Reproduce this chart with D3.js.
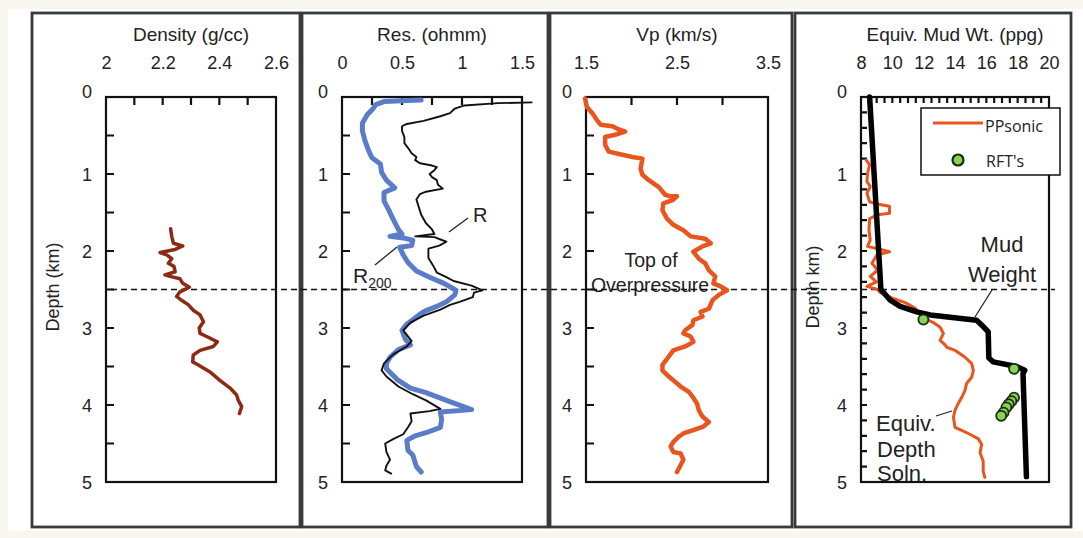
<!DOCTYPE html>
<html><head><meta charset="utf-8">
<script src="https://cdn.jsdelivr.net/npm/d3@7"></script>
<style>
html,body{margin:0;padding:0;background:#fff;}
svg{display:block;font-family:"Liberation Sans",Arial,sans-serif;}
</style></head><body>
<svg id="chart" width="1083" height="538"></svg>
<script>
// ---------------- data ----------------
const depthLabels = [0, 1, 2, 3, 4, 5];
const densityTicks = [2, 2.2, 2.4, 2.6];
const resTicks = [0, 0.5, 1, 1.5];
const vpTicks = [1.5, 2.5, 3.5];
const mudTicks = [8, 10, 12, 14, 16, 18, 20];
const overpressureTop = 2.5;

// [depth km, density g/cc]
const densityLog = [[1.71,2.228],[1.81,2.232],[1.90,2.238],[1.935,2.271],[1.98,2.244],[2.02,2.191],[2.05,2.214],[2.10,2.232],[2.16,2.220],[2.20,2.240],[2.27,2.244],[2.31,2.208],[2.33,2.226],[2.36,2.261],[2.42,2.271],[2.47,2.294],[2.53,2.261],[2.59,2.249],[2.64,2.267],[2.70,2.291],[2.77,2.308],[2.83,2.332],[2.92,2.344],[3.00,2.329],[3.07,2.332],[3.11,2.355],[3.18,2.393],[3.24,2.379],[3.29,2.332],[3.35,2.308],[3.44,2.306],[3.48,2.326],[3.57,2.367],[3.68,2.402],[3.78,2.438],[3.87,2.461],[3.94,2.467],[4.02,2.479],[4.11,2.471]];

// [depth km, resistivity ohmm]
const resR = [[0.07,1.58],[0.08,1.30],[0.11,1.02],[0.15,0.94],[0.21,0.90],[0.25,0.82],[0.31,0.68],[0.35,0.54],[0.38,0.50],[0.44,0.50],[0.52,0.52],[0.60,0.52],[0.66,0.55],[0.73,0.58],[0.78,0.62],[0.82,0.61],[0.86,0.65],[0.89,0.75],[0.91,0.79],[0.95,0.77],[1.00,0.73],[1.04,0.75],[1.08,0.79],[1.14,0.80],[1.19,0.84],[1.23,0.70],[1.26,0.65],[1.33,0.62],[1.43,0.64],[1.53,0.66],[1.64,0.70],[1.72,0.75],[1.78,0.77],[1.81,0.61],[1.82,0.77],[1.88,0.87],[1.93,0.81],[1.97,0.72],[2.09,0.72],[2.19,0.76],[2.28,0.79],[2.34,0.87],[2.39,0.93],[2.45,1.08],[2.51,1.17],[2.54,1.10],[2.60,1.09],[2.66,0.98],[2.70,0.90],[2.76,0.82],[2.84,0.68],[2.93,0.57],[3.03,0.51],[3.09,0.54],[3.17,0.58],[3.24,0.54],[3.34,0.43],[3.46,0.35],[3.55,0.33],[3.63,0.37],[3.76,0.47],[3.86,0.59],[3.94,0.70],[4.05,0.82],[4.08,0.73],[4.11,0.57],[4.21,0.58],[4.29,0.55],[4.38,0.51],[4.44,0.43],[4.50,0.36],[4.61,0.37],[4.71,0.40],[4.79,0.37],[4.85,0.36],[4.89,0.41]];
const resR200 = [[0.04,0.66],[0.05,0.50],[0.06,0.35],[0.10,0.28],[0.15,0.26],[0.23,0.21],[0.34,0.17],[0.44,0.17],[0.56,0.19],[0.69,0.22],[0.79,0.25],[0.87,0.32],[0.98,0.33],[1.08,0.37],[1.18,0.44],[1.24,0.35],[1.35,0.35],[1.47,0.39],[1.60,0.43],[1.72,0.47],[1.78,0.50],[1.81,0.40],[1.83,0.51],[1.86,0.59],[1.93,0.58],[1.95,0.48],[2.05,0.51],[2.15,0.55],[2.26,0.62],[2.34,0.73],[2.42,0.85],[2.51,0.95],[2.57,0.94],[2.66,0.87],[2.72,0.79],[2.78,0.69],[2.82,0.65],[2.95,0.54],[3.03,0.50],[3.15,0.53],[3.22,0.57],[3.28,0.47],[3.38,0.40],[3.46,0.37],[3.53,0.37],[3.67,0.46],[3.78,0.57],[3.84,0.70],[3.94,0.87],[4.06,1.08],[4.09,0.82],[4.19,0.83],[4.29,0.82],[4.36,0.70],[4.40,0.61],[4.46,0.54],[4.59,0.55],[4.65,0.59],[4.75,0.61],[4.80,0.62],[4.87,0.66]];

// [depth km, Vp km/s]
const vpLog = [[0.02,1.49],[0.13,1.51],[0.21,1.57],[0.30,1.62],[0.36,1.66],[0.38,1.79],[0.41,1.84],[0.45,1.93],[0.49,1.82],[0.52,1.71],[0.62,1.71],[0.71,1.75],[0.75,1.90],[0.78,2.01],[0.80,2.12],[0.93,2.10],[1.01,2.12],[1.08,2.19],[1.17,2.30],[1.27,2.37],[1.29,2.43],[1.29,2.50],[1.34,2.45],[1.38,2.35],[1.47,2.34],[1.58,2.39],[1.66,2.46],[1.73,2.57],[1.81,2.65],[1.84,2.81],[1.90,2.87],[1.94,2.78],[2.01,2.68],[2.10,2.74],[2.16,2.81],[2.25,2.85],[2.33,2.92],[2.42,2.90],[2.46,2.98],[2.51,3.05],[2.57,2.96],[2.64,2.89],[2.75,2.85],[2.79,2.76],[2.85,2.78],[2.90,2.68],[2.96,2.67],[3.03,2.59],[3.07,2.57],[3.11,2.65],[3.18,2.68],[3.24,2.59],[3.29,2.46],[3.37,2.41],[3.48,2.34],[3.55,2.34],[3.63,2.41],[3.70,2.48],[3.76,2.54],[3.83,2.63],[3.89,2.67],[3.98,2.72],[4.07,2.74],[4.15,2.78],[4.22,2.85],[4.28,2.79],[4.33,2.67],[4.37,2.57],[4.41,2.52],[4.48,2.46],[4.54,2.43],[4.61,2.46],[4.63,2.54],[4.71,2.57],[4.78,2.54],[4.87,2.50]];

// [depth km, equivalent mud weight ppg]
const mudWeight = [[0.00,8.55],[2.50,9.27],[2.64,9.87],[2.72,10.5],[2.79,11.56],[2.83,12.41],[2.90,15.38],[2.96,15.70],[3.05,16.12],[3.39,16.16],[3.44,16.44],[3.50,17.92],[3.55,18.45],[3.59,18.34],[4.93,18.56]];
const ppSonic = [[0.82,8.34],[0.88,8.55],[0.99,8.42],[1.10,8.38],[1.16,8.59],[1.25,8.38],[1.36,8.55],[1.39,9.02],[1.42,9.82],[1.51,9.82],[1.53,9.06],[1.58,8.55],[1.73,8.51],[1.86,8.59],[1.94,8.42],[1.97,9.06],[2.01,9.82],[2.05,9.02],[2.16,8.70],[2.25,9.06],[2.33,8.59],[2.40,8.98],[2.46,8.38],[2.50,9.06],[2.54,9.23],[2.61,9.97],[2.67,10.82],[2.74,11.45],[2.86,11.9],[2.93,12.62],[2.99,13.05],[3.07,13.26],[3.16,13.05],[3.22,13.37],[3.25,13.47],[3.29,14.0],[3.38,14.64],[3.46,15.06],[3.55,15.17],[3.64,15.06],[3.72,14.74],[3.81,14.64],[3.90,14.43],[3.98,14.21],[4.07,14.0],[4.16,13.9],[4.29,14.0],[4.33,14.43],[4.38,14.95],[4.44,15.49],[4.51,15.7],[4.62,15.6],[4.73,15.8],[4.86,15.8],[4.94,15.9]];
const rftPoints = [[2.89,11.98],[3.53,17.77],[3.905,17.77],[3.95,17.6],[3.99,17.43],[4.03,17.28],[4.10,17.1],[4.14,16.95]];

// ---------------- layout ----------------
const svg = d3.select("#chart");
const W = 1083, H = 538;
const Y0 = 97, Y1 = 482;
const y = d3.scaleLinear().domain([0, 5]).range([Y0, Y1]);

svg.append("rect").attr("width", W).attr("height", H).attr("fill", "#f8f6ee");
svg.append("rect").attr("x", 8).attr("y", 9).attr("width", W - 8).attr("height", 522).attr("fill", "#fff");

const panels = [
  {frame: [32, 13, 300, 527], left: 106, right: 276, domain: [2, 2.6], labels: densityTicks, minor: 0.1, dstep: 0.5, title: "Density (g/cc)", ylabel: "Depth (km)", ylabelX: 53, tick: 8},
  {frame: [302, 13, 548, 527], left: 342, right: 522, domain: [0, 1.5], labels: resTicks, minor: 0.25, dstep: 0.5, title: "Res. (ohmm)", tick: 8},
  {frame: [550, 13, 792, 527], left: 586, right: 768, domain: [1.5, 3.5], labels: vpTicks, minor: 0.5, dstep: 0.5, title: "Vp (km/s)", tick: 8},
  {frame: [795, 13, 1071, 527], left: 861, right: 1049, domain: [8, 20], labels: mudTicks, minor: 0.5, dstep: 0.2, title: "Equiv. Mud Wt. (ppg)", ylabel: "Depth km)", ylabelX: 813, tick: 6}
];

// frames first
panels.forEach(p => {
  p.x = d3.scaleLinear().domain(p.domain).range([p.left, p.right]);
  const [fx0, fy0, fx1, fy1] = p.frame;
  svg.append("rect").attr("x", fx0).attr("y", fy0).attr("width", fx1 - fx0).attr("height", fy1 - fy0)
    .attr("fill", "#fff").attr("stroke", "#3a3a3a").attr("stroke-width", 2.8);
});

// tick marks as one path per panel
panels.forEach(p => {
  const tl = p.tick;
  const nMin = Math.round((p.domain[1] - p.domain[0]) / p.minor);
  const xTickVals = d3.range(1, nMin).map(i => p.domain[0] + i * p.minor);
  const nD = Math.round(5 / p.dstep);
  const yTickVals = d3.range(1, nD).map(i => i * p.dstep);
  let dstr = "";
  xTickVals.forEach(v => { const xx = p.x(v); dstr += `M${xx},${Y0}V${Y0 + tl}`; });
  yTickVals.forEach(v => { const yy = y(v); dstr += `M${p.left},${yy}H${p.left + tl}`; });
  svg.append("path").attr("class", "ticks").attr("d", dstr)
    .attr("fill", "none").attr("stroke", "#111").attr("stroke-width", 2.2);
});

panels.forEach(p => {
  const g = svg.append("g");
  // labels top
  g.append("g").attr("transform", `translate(0,${Y0})`)
    .call(d3.axisTop(p.x).tickValues(p.labels).tickSize(0).tickPadding(28).tickFormat(d3.format("")))
    .call(s => s.select(".domain").remove())
    .call(s => s.selectAll("text").attr("font-size", 18).attr("fill", "#222").attr("font-family", "Liberation Sans, Arial, sans-serif"));
  // depth labels
  g.append("g").attr("transform", `translate(${p.left},0)`)
    .call(d3.axisLeft(y).tickValues(depthLabels).tickSize(0).tickPadding(14).tickFormat(d3.format("d")))
    .call(s => s.select(".domain").remove())
    .call(s => s.selectAll("text").attr("font-size", 18).attr("fill", "#222").attr("font-family", "Liberation Sans, Arial, sans-serif")
      .attr("dy", d => d === 0 ? "0.0em" : "0.34em"));
  // plot box
  g.append("rect").attr("x", p.left).attr("y", Y0).attr("width", p.right - p.left).attr("height", Y1 - Y0)
    .attr("fill", "none").attr("stroke", "#111").attr("stroke-width", 2.2);
  // title
  g.append("text").attr("x", (p.left + p.right) / 2).attr("y", 41).attr("text-anchor", "middle")
    .attr("font-size", 19).attr("fill", "#222").text(p.title);
  if (p.ylabel) {
    g.append("text").attr("transform", `translate(${p.ylabelX},287) rotate(-90)`).attr("text-anchor", "middle")
      .attr("dy", "0.35em").attr("font-size", 18).attr("fill", "#222").text(p.ylabel);
  }
});

const [pD, pR, pV, pM] = panels;

// annotations text
const ann = svg.append("g").attr("fill", "#222");
ann.append("text").attr("x", 651).attr("y", 267).attr("text-anchor", "middle").attr("font-size", 19.5).text("Top of");
ann.append("text").attr("x", 650).attr("y", 292).attr("text-anchor", "middle").attr("font-size", 19.5).text("Overpressure");
ann.append("text").attr("x", 1002).attr("y", 252).attr("text-anchor", "middle").attr("font-size", 22).text("Mud");
ann.append("text").attr("x", 1002).attr("y", 282).attr("text-anchor", "middle").attr("font-size", 22).text("Weight");
ann.append("text").attr("x", 876).attr("y", 431).attr("font-size", 22).text("Equiv.");
ann.append("text").attr("x", 877).attr("y", 457).attr("font-size", 22).text("Depth");
ann.append("text").attr("x", 877).attr("y", 481).attr("font-size", 22).text("Soln.");
ann.append("text").attr("x", 473).attr("y", 222).attr("font-size", 20).text("R");
const r200 = ann.append("text").attr("x", 353).attr("y", 283).attr("font-size", 21);
r200.append("tspan").text("R");
r200.append("tspan").attr("dy", 5).attr("font-size", 14).text("200");

const leaders = [[449, 232, 468, 218], [375, 265, 397, 247], [975, 317, 992, 290], [936, 416, 952, 411]];
svg.append("g").selectAll("line").data(leaders).join("line")
  .attr("x1", d => d[0]).attr("y1", d => d[1]).attr("x2", d => d[2]).attr("y2", d => d[3])
  .attr("stroke", "#222").attr("stroke-width", 1.3);

// dashed top of overpressure
svg.append("line").attr("x1", 111).attr("x2", 1055).attr("y1", y(overpressureTop)).attr("y2", y(overpressureTop))
  .attr("stroke", "#111").attr("stroke-width", 1.5).attr("stroke-dasharray", "6,4");

// curves
function drawLog(panel, data, color, width) {
  const line = d3.line().x(d => panel.x(d[1])).y(d => y(d[0]));
  svg.append("path").datum(data).attr("d", line).attr("fill", "none")
    .attr("stroke", color).attr("stroke-width", width).attr("stroke-linejoin", "round").attr("stroke-linecap", "round");
}
drawLog(pD, densityLog, "#8e2a14", 3.5);
drawLog(pR, resR200, "#5b7cc6", 5);
drawLog(pR, resR, "#111", 1.9);
drawLog(pV, vpLog, "#e8551e", 4.5);
drawLog(pM, ppSonic, "#e8551e", 3);
drawLog(pM, mudWeight, "#000", 5.5);

svg.append("g").selectAll("circle").data(rftPoints).join("circle")
  .attr("cx", d => pM.x(d[1])).attr("cy", d => y(d[0])).attr("r", 5)
  .attr("fill", "#86d455").attr("stroke", "#1c2a10").attr("stroke-width", 1.8);

// legend
const lg = svg.append("g");
lg.append("rect").attr("x", 921).attr("y", 108).attr("width", 139).attr("height", 67)
  .attr("fill", "#fff").attr("stroke", "#111").attr("stroke-width", 1.5);
lg.append("line").attr("x1", 933).attr("x2", 983).attr("y1", 123).attr("y2", 123)
  .attr("stroke", "#e8551e").attr("stroke-width", 3);
lg.append("text").attr("x", 985).attr("y", 132).attr("font-size", 16).attr("font-family", "Open Sans, sans-serif").attr("fill", "#222").text("PPsonic");
lg.append("circle").attr("cx", 958).attr("cy", 160).attr("r", 5.5)
  .attr("fill", "#86d455").attr("stroke", "#1c2a10").attr("stroke-width", 2.2);
lg.append("text").attr("x", 986).attr("y", 167).attr("font-size", 16).attr("font-family", "Open Sans, sans-serif").attr("fill", "#222").text("RFT's");
</script>
</body></html>
